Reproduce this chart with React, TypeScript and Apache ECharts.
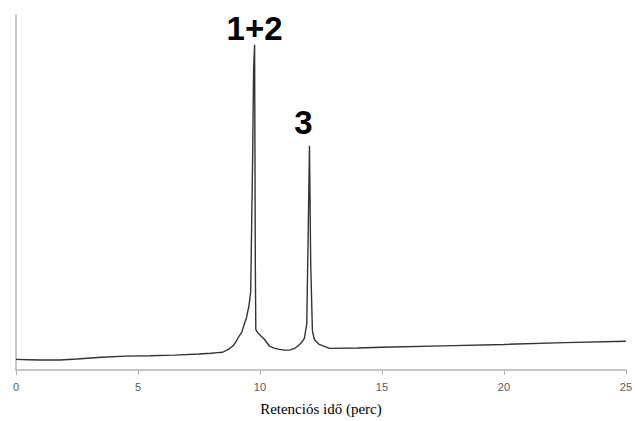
import React, { useEffect, useRef } from "react";
import * as echarts from "echarts";

const timeMin = [
  0, 0.5, 1.0, 1.8, 2.5, 3.5, 4.5, 5.5, 6.5, 7.5, 8.0, 8.25, 8.47, 8.7, 8.88, 9.0, 9.14, 9.25, 9.33, 9.45,
  9.55, 9.62, 9.70, 9.74, 9.78, 9.81, 9.83, 9.9, 10.05, 10.19, 10.39, 10.6, 10.8, 11.0, 11.21, 11.4,
  11.54, 11.7, 11.82, 11.92, 11.98, 12.03, 12.08, 12.15, 12.23, 12.43, 12.85, 14, 15,
  17.5, 20, 22.5, 25,
];
const signal = [
  3.0, 2.9, 2.8, 2.8, 3.1, 3.6, 3.9, 4.0, 4.2, 4.5, 4.7, 4.9, 5.0, 5.8, 6.7, 7.8, 9.5, 10.6, 12.3, 14.8,
  18.1, 22, 60, 85, 91.6, 30, 11.4, 10.6, 9.5, 8.6, 6.7, 6.1, 5.8, 5.6, 5.6, 6.0,
  6.7, 7.7, 8.9, 13.1, 40, 63.2, 30, 11, 8.6, 7.2, 6.1, 6.2, 6.4,
  6.8, 7.2, 7.7, 8.1,
];
const peakLabels = ["1+2", "3"];
const peakTimes = [9.78, 12.03];
const peakValues = [91.6, 63.2];
const labelShiftX = [0, -6];
const labelShiftY = [0, -7];
const xTitle = "Retenciós idő (perc)";

export default function App() {
  const ref = useRef<HTMLDivElement>(null);
  useEffect(() => {
    if (!ref.current) return;
    const chart = echarts.init(ref.current, undefined, { renderer: "svg" });
    chart.setOption({
      animation: false,
      backgroundColor: "#ffffff",
      grid: { left: 16, right: 8, top: 15, bottom: 47 },
      xAxis: {
        type: "value",
        min: 0,
        max: 25,
        interval: 5,
        name: xTitle,
        nameLocation: "middle",
        nameGap: 31,
        nameTextStyle: { fontFamily: "Liberation Serif", fontSize: 15, color: "#000" },
        axisLine: { show: true, onZero: false, lineStyle: { color: "#b3b3b3", width: 1.5 } },
        axisTick: { show: true, length: 5, lineStyle: { color: "#b3b3b3" } },
        axisLabel: { fontFamily: "Liberation Sans", fontSize: 11, color: "#595959", margin: 11 },
        splitLine: { show: false },
      },
      yAxis: {
        type: "value",
        min: 0,
        max: 100,
        axisLine: { show: true, lineStyle: { color: "#b3b3b3", width: 1.5 } },
        axisTick: { show: false },
        axisLabel: { show: false },
        splitLine: { show: false },
      },
      series: [
        {
          type: "line",
          data: timeMin.map((t, i) => [t, signal[i]]),
          showSymbol: false,
          smooth: false,
          lineStyle: { color: "#333333", width: 1.4 },
          markPoint: {
            symbol: "circle",
            symbolSize: 0,
            data: peakLabels.map((l, i) => ({
              coord: [peakTimes[i], peakValues[i]],
              value: l,
              label: { offset: [labelShiftX[i], labelShiftY[i]] },
            })),
            label: {
              show: true,
              position: "top",
              distance: 0,
              formatter: (p: any) => p.value,
              fontFamily: "Liberation Sans",
              fontWeight: "bold",
              fontSize: 33,
              color: "#000",
            },
          },
        },
      ],
    });
    return () => chart.dispose();
  }, []);
  return (
    <div
      ref={ref}
      style={{ position: "fixed", left: 0, top: 0, width: 635, height: 421, background: "#fff" }}
    />
  );
}
